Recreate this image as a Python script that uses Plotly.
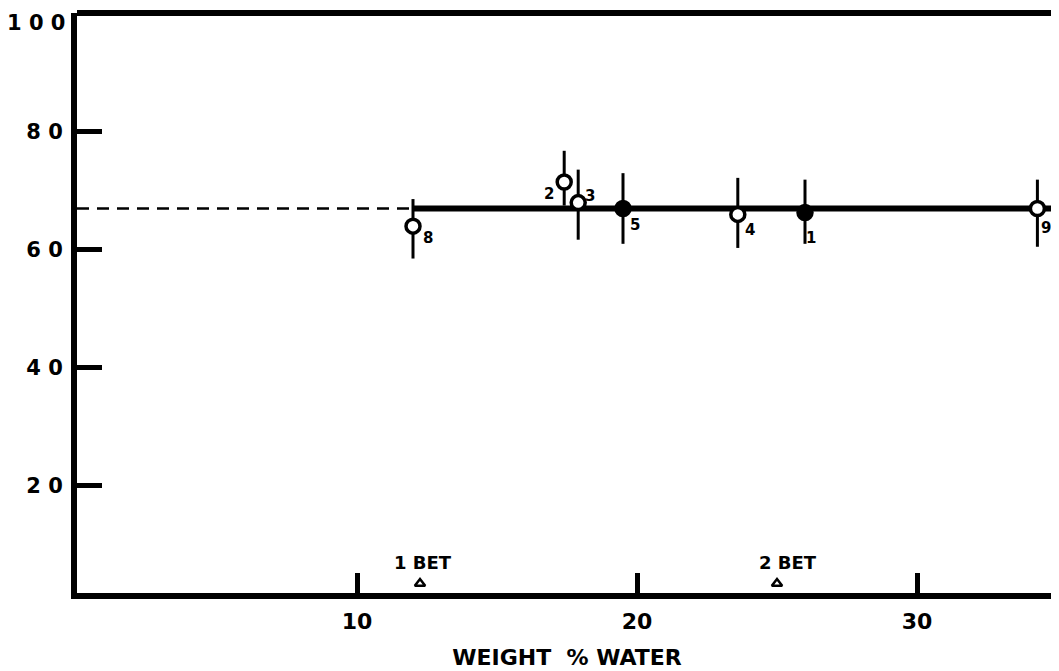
import plotly.graph_objects as go

# Data
labels = ["1", "2", "3", "4", "5", "8", "9"]
water = [26.0, 17.4, 17.9, 23.6, 19.5, 12.0, 34.3]
value = [66.3, 71.5, 68.0, 66.0, 67.0, 64.0, 67.0]
err_plus = [5.6, 5.3, 5.6, 6.2, 6.0, 4.6, 4.9]
err_minus = [5.3, 4.0, 6.3, 5.7, 6.0, 5.5, 6.5]
filled = [True, False, False, False, True, False, False]

# label offsets (pixels) relative to each point
label_dx = [6, -15, 12, 12, 12, 15, 9]
label_dy = [-25, -12, 7, -16, -17, -12, -20]

mean_level = 67.0
fit_solid_x = [12.0, 35.0]
fit_dash_x = [0.0, 12.0]

bet_labels = ["1 BET", "2 BET"]
bet_x = [12.25, 25.0]
bet_text_x = [12.35, 25.4]

x_ticks = [10, 20, 30]
y_ticks = [20, 40, 60, 80]
y_ticktext = ["2 0", "4 0", "6 0", "8 0"]
y_top = 100
y_top_text = "1 0 0"

FONT = "DejaVu Sans"

fig = go.Figure()

# dashed extrapolation
fig.add_trace(go.Scatter(x=fit_dash_x, y=[mean_level] * 2, mode="lines",
                         line=dict(color="black", width=2.5, dash="12px,8px"),
                         hoverinfo="skip"))
# solid fit
fig.add_trace(go.Scatter(x=fit_solid_x, y=[mean_level] * 2, mode="lines",
                         line=dict(color="black", width=6),
                         hoverinfo="skip"))

# points with error bars
fig.add_trace(go.Scatter(
    x=water, y=value, mode="markers", cliponaxis=False,
    marker=dict(symbol="circle", size=14,
                color=["black" if f else "white" for f in filled],
                line=dict(color="black", width=3.5)),
    error_y=dict(type="data", symmetric=False, array=err_plus,
                 arrayminus=err_minus, color="black", thickness=3, width=0),
))
for lab, xv, yv, dx, dy in zip(labels, water, value, label_dx, label_dy):
    fig.add_annotation(x=xv, y=yv, text=lab, showarrow=False, xshift=dx, yshift=dy,
                       font=dict(family=FONT, size=15, color="black", weight="bold"))

# BET markers
fig.add_trace(go.Scatter(x=bet_x, y=[3.3] * 2, mode="markers",
                         marker=dict(symbol="triangle-up-open", size=9,
                                     color="black", line=dict(width=2.5)),
                         hoverinfo="skip"))
for lab, tx in zip(bet_labels, bet_text_x):
    fig.add_annotation(x=tx, y=6.8, text=lab, showarrow=False,
                       font=dict(family=FONT, size=18, color="black", weight="bold"))

# top y label (sits slightly below the frame line)
fig.add_annotation(x=0, xref="paper", y=y_top, yref="y", text=y_top_text,
                   showarrow=False, xanchor="right", xshift=-10, yshift=-9,
                   font=dict(family=FONT, size=21, color="black", weight="bold"))

# frame: top and right
fig.add_shape(type="line", xref="paper", yref="paper", x0=0, x1=1, y0=1, y1=1,
              line=dict(color="black", width=6))
fig.add_shape(type="line", xref="paper", yref="paper", x0=1, x1=1, y0=0, y1=0.72,
              line=dict(color="#888", width=1))

fig.update_layout(
    width=1051, height=663,
    margin=dict(l=69, r=2, t=5, b=78),
    paper_bgcolor="white", plot_bgcolor="white",
    showlegend=False,
    xaxis=dict(range=[0, 35], tickvals=x_ticks, ticktext=[str(t) for t in x_ticks],
               ticks="inside", ticklen=20, tickwidth=5, tickcolor="black",
               showline=True, linewidth=6, linecolor="black", showgrid=False,
               zeroline=False, automargin=False, ticklabelstandoff=4,
               tickfont=dict(family=FONT, size=22, color="black", weight="bold"),
               title=dict(text="WEIGHT  % WATER", standoff=18,
                          font=dict(family=FONT, size=22, color="black", weight="bold"))),
    yaxis=dict(range=[1.7, 100.2], tickvals=y_ticks, ticktext=y_ticktext,
               ticks="inside", ticklen=25, tickwidth=5, tickcolor="black",
               showline=True, linewidth=6, linecolor="black", showgrid=False,
               zeroline=False, ticklabelstandoff=4, automargin=False,
               ticklabeloverflow="allow",
               tickfont=dict(family=FONT, size=21, color="black", weight="bold")),
)

fig.write_html("out.html")
